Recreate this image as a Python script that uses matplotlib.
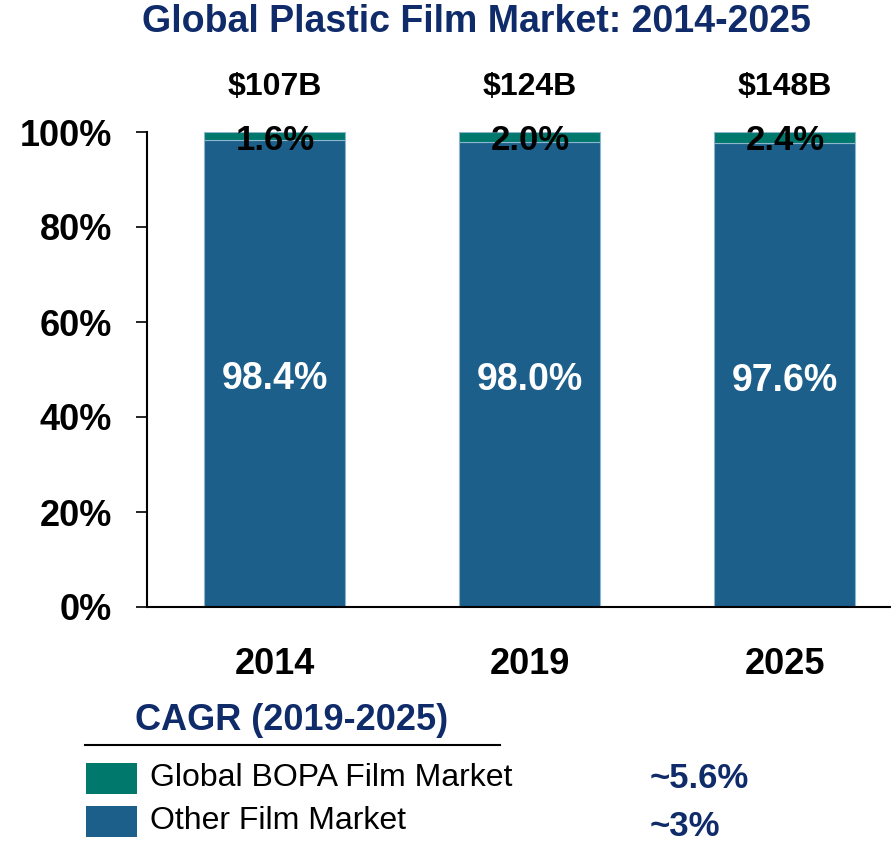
import matplotlib.pyplot as plt
from matplotlib.patches import Rectangle
from matplotlib.lines import Line2D
import numpy as np

plt.rcParams["font.family"] = ["Liberation Sans", "DejaVu Sans"]

# Chart data
years = ["2014", "2019", "2025"]
other_share = [98.4, 98.0, 97.6]
bopa_share = [1.6, 2.0, 2.4]
market_size = ["$107B", "$124B", "$148B"]
series_names = ["Global BOPA Film Market", "Other Film Market"]
cagr_labels = ["~5.6%", "~3%"]

navy = "#102B6A"
teal = "#00786B"
blue = "#1B5F8A"
edge = "#8DB6CE"

W, H = 891, 844
fig = plt.figure(figsize=(W / 100, H / 100), dpi=100)
ax = fig.add_axes([147 / W, 1 - 607 / H, 1 - 147 / W, (607 - 132) / H])

x = np.arange(len(years))
width = 0.553
ax.bar(x, other_share, width, color=blue, edgecolor=edge, linewidth=0.8)
ax.bar(x, bopa_share, width, bottom=other_share, color=teal, edgecolor=edge, linewidth=0.8)

for i in range(len(years)):
    ax.text(x[i], other_share[i] / 2 - 1.2, f"{other_share[i]:.1f}%", ha="center", va="center",
            color="white", fontsize=27, fontweight="bold")
    ax.text(x[i], 98.2, f"{bopa_share[i]:.1f}%", ha="center", va="center",
            color="black", fontsize=25, fontweight="bold")
    ax.text(x[i], 109.4, market_size[i], ha="center", va="center",
            color="black", fontsize=23, fontweight="bold", clip_on=False)

ax.set_xlim(-0.502, 2.416)
ax.set_ylim(0, 100)
ax.set_yticks(np.arange(0, 101, 20))
ax.set_yticklabels([f"{v}%" for v in range(0, 101, 20)], fontsize=26, fontweight="bold")
ax.set_xticks(x)
ax.set_xticklabels(years, fontsize=26, fontweight="bold")
ax.tick_params(axis="y", direction="out", length=8, width=1.2, pad=17)
ax.tick_params(axis="x", length=0, pad=29)
for s in ["top", "right"]:
    ax.spines[s].set_visible(False)
for s in ["left", "bottom"]:
    ax.spines[s].set_linewidth(1.5)
    ax.spines[s].set_color("black")

# Title
fig.text(476 / W, 1 - 22 / H, "Global Plastic Film Market: 2014-2025", ha="center", va="center",
         fontsize=27, fontweight="bold", color=navy)

# CAGR legend block
fig.text(292 / W, 1 - 720 / H, "CAGR (2019-2025)", ha="center", va="center",
         fontsize=26, fontweight="bold", color=navy)
fig.add_artist(Line2D([85 / W, 500 / W], [1 - 745 / H, 1 - 745 / H], color="black", linewidth=1.5))

legend_colors = [teal, blue]
row_y = [778, 821]
cagr_y = [778, 826]
for name, col, ry, label, cy in zip(series_names, legend_colors, row_y, cagr_labels, cagr_y):
    fig.add_artist(Rectangle((86 / W, 1 - (ry + 16) / H), 51 / W, 31 / H,
                             transform=fig.transFigure, facecolor=col, edgecolor="none"))
    fig.text(150 / W, 1 - ry / H, name, ha="left", va="center", fontsize=23, color="black")
    fig.text(650 / W, 1 - cy / H, label, ha="left", va="center",
             fontsize=25, fontweight="bold", color=navy)

fig.savefig("out.png")
plt.close(fig)
